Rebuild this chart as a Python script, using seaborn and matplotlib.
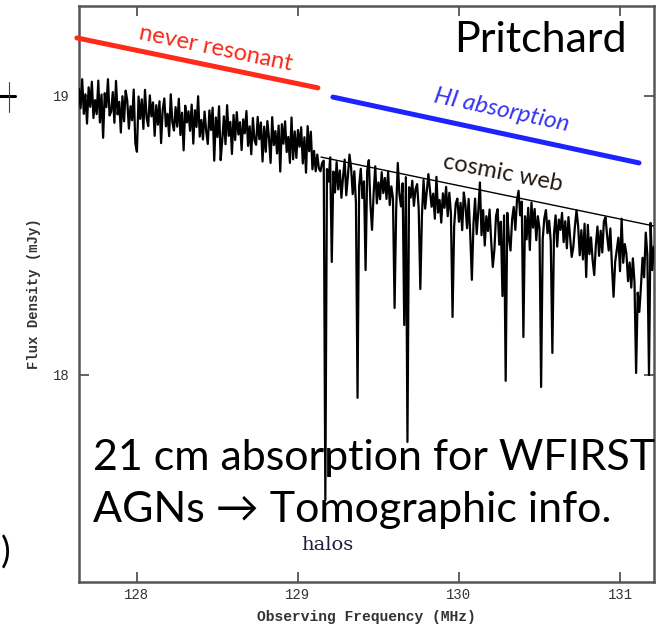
import numpy as np
import pandas as pd
import matplotlib
matplotlib.use("Agg")
import matplotlib.pyplot as plt
import seaborn as sns
from matplotlib.lines import Line2D

# ---------------- data ----------------
freq_start = 127.64      # MHz, first channel
freq_step = 0.01         # MHz per channel

# observed flux density (mJy), channel by channel
flux = [
    19.026, 18.956, 19.060, 18.936, 19.006, 18.901, 19.031, 18.961, 19.051, 18.921,
    18.985, 18.935, 19.055, 18.905, 19.005, 18.850, 19.010, 18.960, 19.060, 18.930,
    18.944, 19.014, 18.904, 19.054, 18.934, 18.979, 18.869, 18.999, 18.909, 19.019,
    18.983, 18.883, 18.963, 18.913, 19.023, 18.830, 18.800, 18.998, 18.918, 18.988,
    18.882, 19.022, 18.922, 18.892, 19.002, 18.927, 18.977, 18.857, 18.967, 18.897,
    18.981, 18.831, 18.951, 18.991, 18.891, 18.936, 18.856, 19.006, 18.906, 18.876,
    18.960, 18.890, 18.990, 18.860, 18.940, 18.805, 18.965, 18.905, 18.945, 18.875,
    18.969, 18.829, 18.949, 18.889, 18.999, 18.854, 18.914, 18.844, 18.944, 18.874,
    18.828, 18.948, 18.878, 18.958, 18.768, 18.923, 18.853, 18.963, 18.770, 18.843,
    18.927, 18.827, 18.967, 18.857, 18.907, 18.792, 18.932, 18.842, 18.942, 18.862,
    18.906, 18.806, 18.916, 18.866, 18.946, 18.821, 18.891, 18.791, 18.921, 18.841,
    18.825, 18.925, 18.845, 18.905, 18.765, 18.890, 18.800, 18.910, 18.850, 18.760,
    18.924, 18.824, 18.874, 18.794, 18.894, 18.729, 18.899, 18.829, 18.909, 18.799,
    18.853, 18.760, 18.923, 18.773, 18.873, 18.778, 18.878, 18.818, 18.888, 18.758,
    18.852, 18.725, 18.892, 18.802, 18.872, 18.737, 18.803, 18.730, 18.790, 18.740,
    18.730, 18.760, 18.768, 18.663, 18.738, 18.693, 18.780, 18.671, 18.729, 18.654,
    18.763, 18.665, 18.733, 18.635, 18.710, 18.772, 18.644, 18.712, 18.790, 18.742,
    18.648, 18.730, 18.618, 18.715, 18.678, 18.739, 18.634, 18.694, 18.649, 18.732,
    18.770, 18.613, 18.726, 18.651, 18.748, 18.615, 18.690, 18.630, 18.727, 18.652,
    18.706, 18.631, 18.729, 18.609, 18.676, 18.633, 18.708, 18.595, 18.760, 18.648,
    18.604, 18.687, 18.634, 18.709, 18.582, 18.673, 18.636, 18.696, 18.606, 18.666,
    18.684, 18.594, 18.639, 18.572, 18.699, 18.596, 18.656, 18.720, 18.663, 18.603,
    18.650, 18.560, 18.710, 18.582, 18.627, 18.546, 18.651, 18.599, 18.674, 18.569,
    18.653, 18.578, 18.630, 18.533, 18.615, 18.632, 18.549, 18.617, 18.519, 18.654,
    18.608, 18.526, 18.631, 18.503, 18.586, 18.542, 18.632, 18.505, 18.587, 18.690,
    18.501, 18.591, 18.464, 18.569, 18.516, 18.593, 18.480, 18.548, 18.450, 18.570,
    18.594, 18.467, 18.549, 18.459, 18.572, 18.476, 18.581, 18.491, 18.446, 18.558,
    18.602, 18.520, 18.625, 18.660, 18.572, 18.621, 18.516, 18.569, 18.486, 18.599,
    18.505, 18.618, 18.528, 18.595, 18.483, 18.569, 18.524, 18.630, 18.487, 18.562,
    18.591, 18.508, 18.553, 18.478, 18.606, 18.505, 18.572, 18.460, 18.557, 18.520,
    18.581, 18.476, 18.551, 18.454, 18.566, 18.495, 18.578, 18.458, 18.533, 18.590,
    18.534, 18.429, 18.519, 18.414, 18.542, 18.448, 18.538, 18.433, 18.493, 18.411,
    18.555, 18.465, 18.532, 18.427, 18.517, 18.439, 18.551, 18.565, 18.499, 18.446,
    18.525, 18.390, 18.495, 18.405, 18.450, 18.492, 18.372, 18.560, 18.402, 18.469,
    18.433, 18.336, 18.403, 18.313, 18.418, 18.332, 18.415, 18.295, 18.385, 18.317,
    18.420, 18.350, 18.510, 18.430, 18.515, 18.545, 18.530, 18.460,
]

# narrow absorbers: line frequency (MHz) and minimum flux reached (mJy)
absorber_freq = [129.168, 129.211, 129.366, 129.422, 129.460, 129.596, 129.665,
                 129.683, 129.758, 129.963, 130.081, 130.211, 130.273, 130.292,
                 130.398, 130.435, 130.509, 130.584, 130.702, 130.789, 130.845,
                 130.963, 131.099, 131.118, 131.180, 131.199]
absorber_min = [17.552, 18.405, 17.918, 18.376, 18.520, 18.240, 18.179,
                17.760, 18.308, 18.208, 18.341, 18.387, 18.283, 17.979,
                18.136, 18.448, 17.957, 18.079, 18.423, 18.351, 18.358,
                18.280, 18.007, 18.226, 18.000, 18.376]

# straight annotation lines (MHz, mJy)
continuum_x = [129.143, 131.21]
continuum_y = [18.781, 18.534]
never_res_x = [127.627, 129.124]
never_res_y = [19.208, 19.029]
hi_abs_x = [129.217, 131.118]
hi_abs_y = [18.996, 18.760]

x_ticks = [128, 129, 130, 131]
y_ticks = [18, 19]

# ---------------- build table ----------------
flux_arr = np.array(flux, dtype=float)
freq_arr = freq_start + freq_step * np.arange(len(flux_arr))
for f, m in zip(absorber_freq, absorber_min):
    k = int(round((f - freq_start) / freq_step))
    flux_arr[k] = min(flux_arr[k], m)
spec = pd.DataFrame({"freq": freq_arr, "flux": flux_arr})

# ---------------- figure ----------------
sns.set_style("ticks")
plt.rcParams["font.family"] = ["DejaVu Sans"]

fig = plt.figure(figsize=(6.57, 6.33), dpi=100)
fig.patch.set_facecolor("white")
ax = fig.add_axes([0.1202, 0.0806, 0.8752, 0.9100])
ax.set_facecolor("white")

sns.lineplot(data=spec, x="freq", y="flux", ax=ax, color="black",
             lw=1.6, estimator=None, sort=False, zorder=3)
sns.lineplot(x=continuum_x, y=continuum_y, ax=ax, color="black", lw=1.0,
             estimator=None, sort=False, zorder=4)
sns.lineplot(x=never_res_x, y=never_res_y, ax=ax, color="#ff2a1a", lw=3.6,
             estimator=None, sort=False, zorder=5, clip_on=False)
sns.lineplot(x=hi_abs_x, y=hi_abs_y, ax=ax, color="#1e22ff", lw=3.6,
             estimator=None, sort=False, zorder=5)

ax.set_xlim(127.640, 131.211)
ax.set_ylim(17.258, 19.3226)
ax.set_xticks(x_ticks)
ax.set_yticks(y_ticks)
ax.set_xticklabels([str(t) for t in x_ticks])
ax.set_yticklabels([str(t) for t in y_ticks])

mono = ["Liberation Mono", "DejaVu Sans Mono"]
for lab in ax.get_xticklabels() + ax.get_yticklabels():
    lab.set_family(mono)
    lab.set_fontsize(10)
    lab.set_color("#333333")
ax.tick_params(axis="both", direction="in", length=7, width=1.3,
               color="#555555", top=True, right=True)
ax.tick_params(axis="x", pad=4)
ax.tick_params(axis="y", pad=7)
for s in ax.spines.values():
    s.set_color("#555555")
    s.set_linewidth(1.8)
    s.set_visible(True)

ax.set_xlabel("Observing Frequency (MHz)", family=mono, fontsize=10.5,
              fontweight="bold", color="#333333", labelpad=6)
ax.set_ylabel("Flux Density (mJy)", family=mono, fontsize=10,
              fontweight="bold", color="#333333", labelpad=8)

# annotations inside the plot
ax.text(128.49, 19.172, "never resonant", color="#f52a1a", fontsize=17,
        family=["Lato", "DejaVu Sans"], rotation=-11.7, rotation_mode="anchor",
        ha="center", va="center", zorder=6)
ax.text(130.267, 18.950, "HI absorption", color="#3434f0", fontsize=17.5,
        family=["Lato", "DejaVu Sans"], style="italic", rotation=-12.2,
        rotation_mode="anchor", ha="center", va="center", zorder=6)
ax.text(130.273, 18.724, "cosmic web", color="#231a10", fontsize=17,
        family=["Lato", "DejaVu Sans"], rotation=-11.0, rotation_mode="anchor",
        ha="center", va="center", zorder=6)
ax.text(129.186, 17.391, "halos", color="#1c1c40", fontsize=14,
        family=["DejaVu Serif"], ha="center", va="center", zorder=6)

# slide text
slide_font = ["Lato", "DejaVu Sans"]
fig.text(0.9543, 0.9179, "Pritchard", fontsize=31, family=slide_font,
         ha="right", va="baseline", color="black")
fig.text(0.1416, 0.2575, "21 cm absorption for WFIRST", fontsize=31,
         family=slide_font, ha="left", va="baseline", color="black")
fig.text(0.1416, 0.1754, "AGNs \u2192 Tomographic info.", fontsize=31,
         family=slide_font, ha="left", va="baseline", color="black")

# fragments of neighbouring slide elements at the left edge
fig.add_artist(Line2D([0.0, 15 / 657], [1 - 96 / 633, 1 - 96 / 633],
                      color="black", lw=2.2, transform=fig.transFigure))
fig.add_artist(Line2D([9 / 657, 9 / 657], [1 - 82 / 633, 1 - 112 / 633],
                      color="#444444", lw=0.8, transform=fig.transFigure))
fig.text(10 / 657, 1 - 553 / 633, ")", fontsize=26, family=slide_font,
         ha="right", va="center", color="black")

fig.savefig("out.png", dpi=100, facecolor="white")
